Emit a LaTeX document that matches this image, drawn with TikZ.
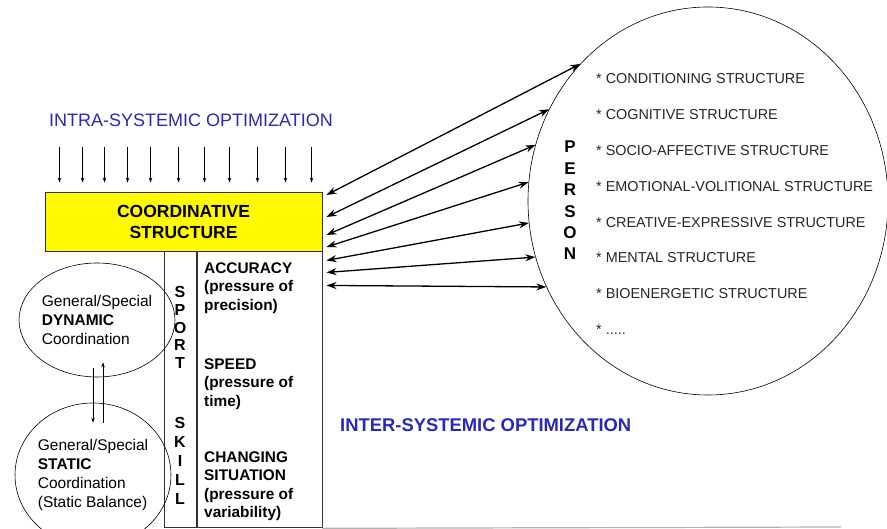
\documentclass[tikz,border=0pt]{standalone}
\usepackage{fontspec}
\setmainfont{Liberation Sans}
\usetikzlibrary{positioning,shapes.geometric,arrows.meta}
\definecolor{optblue}{RGB}{40,40,190}
\definecolor{boxyellow}{RGB}{255,250,0}

\begin{document}
\begin{tikzpicture}[x=1pt, y=1pt,
	box/.style = {draw=black!80, inner sep=0pt, line width=0.9pt},
	bubble/.style = {draw, ellipse, inner sep=0pt, line width=0.6pt, align=left},
	skilltext/.style = {align=left, anchor=west, inner sep=0pt, font=\bfseries\fontsize{15.4}{18.5}\selectfont},
	item/.style = {anchor=west, inner sep=0pt, text=black!85, font=\fontsize{14.4}{16}\selectfont},
	pull/.style = {-{Stealth[length=5pt,width=3.5pt]}, line width=0.7pt},
	link/.style = {{Stealth[length=10pt,width=7pt]}-{Stealth[length=10pt,width=7pt]}, line width=1.3pt}]
	\useasboundingbox (0,0) rectangle (887,529);
	\node[text=optblue, font=\fontsize{18}{20}\selectfont] (intra) at (191,409) {INTRA-SYSTEMIC OPTIMIZATION};
	\node[box, fill=boxyellow, minimum width=277pt, minimum height=59pt, align=center, font=\bfseries\fontsize{17.5}{21}\selectfont] (coord) at (183.5,307.5) {COORDINATIVE\\STRUCTURE};
	\node[box, minimum width=125pt, minimum height=276pt, anchor=north east] (skill) at (coord.south east) {};
	\node[box, minimum width=32pt, minimum height=276pt, anchor=north east] (letters) at (skill.north west) {};
	\node[align=center, font=\bfseries\fontsize{16}{17.8}\selectfont] (sport) at (180,201.5) {S\\P\\O\\R\\T};
	\node[align=center, font=\bfseries\fontsize{16}{19}\selectfont] (skillword) at (180,68) {S\\K\\I\\L\\L};
	\node[skilltext] (accuracy) at (204,241) {ACCURACY\\(pressure of\\precision)};
	\node[skilltext] (speed) at (204,145) {SPEED\\(pressure of\\time)};
	\node[skilltext] (changing) at (204,43) {CHANGING\\SITUATION\\(pressure of\\variability)};
	\node[bubble, minimum width=134pt, minimum height=114pt, font=\fontsize{15.5}{19}\selectfont] (dynamic) at (97,209) {General/Special\\\textbf{DYNAMIC}\\Coordination};
	\node[bubble, minimum width=144pt, minimum height=144pt, font=\fontsize{15.5}{19}\selectfont] (static) at (93,54) {General/Special\\\textbf{STATIC}\\Coordination\\(Static Balance)};
	\draw[pull] ([xshift=-4pt,yshift=9pt]dynamic.south) -- ([yshift=-20pt]static.north);
	\draw[pull] ([xshift=10pt,yshift=-20pt]static.north) -- ([xshift=6pt,yshift=15pt]dynamic.south);
	\foreach \x in {15,38,60,83,106,134,160,185,213,241,267}
		\draw[pull] ([xshift=\x pt,yshift=45pt]coord.north west) -- ([xshift=\x pt,yshift=9pt]coord.north west);
	\node[bubble, minimum width=360pt, minimum height=388pt] (person) at (708,328) {};
	\node[align=center, font=\bfseries\fontsize{17}{21.4}\selectfont] (personword) at (570,328.5) {P\\E\\R\\S\\O\\N};
	\foreach \t [count=\i] in {CONDITIONING STRUCTURE, COGNITIVE STRUCTURE, SOCIO-AFFECTIVE STRUCTURE, EMOTIONAL-VOLITIONAL STRUCTURE, CREATIVE-EXPRESSIVE STRUCTURE, MENTAL STRUCTURE, BIOENERGETIC STRUCTURE}
		\node[item] (item\i) at (596,{450-35.8*(\i-1)}) {* \t};
	\node[item] (item8) at (596,199) {* .....};
	\foreach \dy/\a in {26.5/133, 4.5/150, -13.5/162, -25.5/174}
		\draw[link] ([xshift=4pt,yshift=\dy pt]coord.east) -- (person.\a);
	\foreach \dy/\a in {-9/187, -21/198, -34/208}
		\draw[link] ([xshift=4pt,yshift=\dy pt]skill.north east) -- (person.\a);
	\node[text=optblue, anchor=west, inner sep=0pt, font=\bfseries\fontsize{18.4}{20}\selectfont] (inter) at (340,104) {INTER-SYSTEMIC OPTIMIZATION};
	\coordinate (lineend) at (841,2);
	\draw[gray!60, line width=1.2pt] (skill.south east) -- (lineend);
\end{tikzpicture}
\end{document}
